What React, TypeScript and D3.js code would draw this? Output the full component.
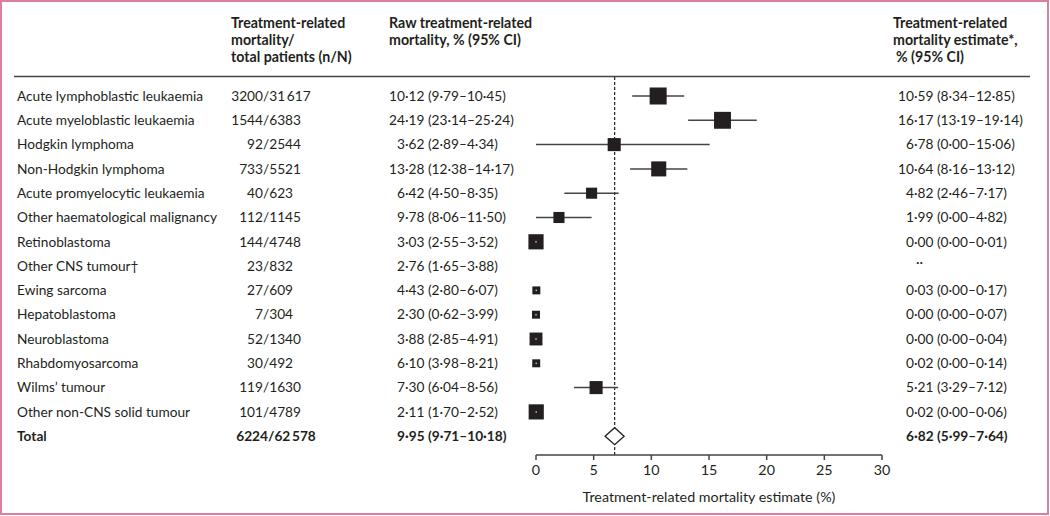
import React from 'react';
import * as d3 from 'd3';

const categories = [
  'Acute lymphoblastic leukaemia',
  'Acute myeloblastic leukaemia',
  'Hodgkin lymphoma',
  'Non-Hodgkin lymphoma',
  'Acute promyelocytic leukaemia',
  'Other haematological malignancy',
  'Retinoblastoma',
  'Other CNS tumour\u2020',
  'Ewing sarcoma',
  'Hepatoblastoma',
  'Neuroblastoma',
  'Rhabdomyosarcoma',
  'Wilms\u2019 tumour',
  'Other non-CNS solid tumour',
];
const deaths = [3200, 1544, 92, 733, 40, 112, 144, 23, 27, 7, 52, 30, 119, 101];
const patients = [31617, 6383, 2544, 5521, 623, 1145, 4748, 832, 609, 304, 1340, 492, 1630, 4789];
const rawEst = [10.12, 24.19, 3.62, 13.28, 6.42, 9.78, 3.03, 2.76, 4.43, 2.3, 3.88, 6.1, 7.3, 2.11];
const rawLo = [9.79, 23.14, 2.89, 12.38, 4.5, 8.06, 2.55, 1.65, 2.8, 0.62, 2.85, 3.98, 6.04, 1.7];
const rawHi = [10.45, 25.24, 4.34, 14.17, 8.35, 11.5, 3.52, 3.88, 6.07, 3.99, 4.91, 8.21, 8.56, 2.52];
const estimate: (number | null)[] = [10.59, 16.17, 6.78, 10.64, 4.82, 1.99, 0.0, null, 0.03, 0.0, 0.0, 0.02, 5.21, 0.02];
const estLo: (number | null)[] = [8.34, 13.19, 0.0, 8.16, 2.46, 0.0, 0.0, null, 0.0, 0.0, 0.0, 0.0, 3.29, 0.0];
const estHi: (number | null)[] = [12.85, 19.14, 15.06, 13.12, 7.17, 4.82, 0.01, null, 0.17, 0.07, 0.04, 0.14, 7.12, 0.06];
const weights: (number | null)[] = [7.3, 7.2, 4.3, 5.7, 3.1, 3.1, 5.8, null, 1.6, 1.6, 4.2, 1.6, 4.3, 5.8];

const totalLabel = 'Total';
const totalDeaths = 6224;
const totalPatients = 62578;
const totalRaw = [9.95, 9.71, 10.18];
const totalEst = [6.82, 5.99, 7.64];

const xTicks = [0, 5, 10, 15, 20, 25, 30];
const axisTitle = 'Treatment-related mortality estimate (%)';

const FONT = 'Lato, "Open Sans", sans-serif';
const INK = '#231f20';

const fmt = (v: number) => d3.format('.2f')(v).replace('.', '\u00b7');
const fmtN = (v: number) => {
  const s = String(v);
  return s.length > 4 ? s.slice(0, s.length - 3) + '\u2009' + s.slice(s.length - 3) : s;
};
const ciText = (e: number, l: number, h: number) => `${fmt(e)} (${fmt(l)}\u2013${fmt(h)})`;

function Aligned({ x, y, text, sep, bold }: { x: number; y: number; text: string; sep: string; bold?: boolean }) {
  const i = text.indexOf(sep);
  const a = i >= 0 ? text.slice(0, i) : '';
  const b = i >= 0 ? text.slice(i) : text;
  const fw = bold ? 700 : 400;
  return (
    <g fontWeight={fw}>
      <text x={x} y={y} textAnchor="end">{a}</text>
      <text x={x} y={y} textAnchor="start">{b}</text>
    </g>
  );
}

export default function App() {
  const W = 1050;
  const H = 516;
  const x = d3.scaleLinear().domain([0, 30]).range([536, 882]);
  const n = categories.length;
  const y = d3.scaleLinear().domain([0, n]).range([96, 96 + n * 24.3]);
  const side = d3.scaleSqrt().domain([0, 1]).range([0, 6.3]);
  const axisY = 455;

  const colLabel = 17;
  const colSlash = 263;
  const colRawDot = 405;
  const colEstDot = 914;
  const fs = 13.7;

  return (
    <svg width={W} height={H} style={{ position: 'absolute', left: 0, top: 0, background: '#fff' }}
      fontFamily={FONT} fontSize={fs} fill={INK}>
      <rect x={1} y={1} width={W - 3} height={H - 3} fill="#fff" stroke="#db7f9c" strokeWidth={2} />

      {/* headers */}
      <g fontWeight={700} fontSize={14.2}>
        <text x={231} y={28}>Treatment-related</text>
        <text x={231} y={45}>mortality/</text>
        <text x={231} y={62}>total patients (n/N)</text>
        <text x={389} y={28}>Raw treatment-related</text>
        <text x={389} y={45}>mortality, % (95% CI)</text>
        <text x={893} y={28}>Treatment-related</text>
        <text x={893} y={45}>mortality estimate*,</text>
        <text x={896} y={62}>% (95% CI)</text>
      </g>
      <line x1={14} x2={1030} y1={76.5} y2={76.5} stroke="#444" strokeWidth={1.5} />

      {/* reference dashed line */}
      <line x1={x(totalEst[0])} x2={x(totalEst[0])} y1={77} y2={axisY} stroke={INK} strokeWidth={1.2} strokeDasharray="3,2" />

      {/* rows */}
      {categories.map((c, i) => {
        const cy = y(i);
        const by = cy + 4.7;
        const e = estimate[i];
        const l = estLo[i];
        const h = estHi[i];
        const w = weights[i];
        const s = w != null ? side(w) : 0;
        return (
          <g key={c}>
            <text x={colLabel} y={by}>{c}</text>
            <Aligned x={colSlash} y={by} text={`${fmtN(deaths[i])}/${fmtN(patients[i])}`} sep="/" />
            <Aligned x={colRawDot} y={by} text={ciText(rawEst[i], rawLo[i], rawHi[i])} sep={'\u00b7'} />
            {e != null && l != null && h != null ? (
              <>
                <Aligned x={colEstDot} y={by} text={ciText(e, l, h)} sep={'\u00b7'} />
                <line x1={x(l)} x2={x(h)} y1={cy} y2={cy} stroke="#444" strokeWidth={1.5} />
                <rect x={x(e) - s / 2} y={cy - s / 2} width={s} height={s} fill={INK} />
                {h - l < 0.5 ? (
                  <rect x={x(e) - 0.75} y={cy - 0.75} width={1.5} height={1.5} fill="#bbb" />
                ) : null}
              </>
            ) : (
              <text x={colEstDot + 2} y={by - 4}>{'\u00b7\u00b7'}</text>
            )}
          </g>
        );
      })}

      {/* total */}
      {(() => {
        const cy = y(n);
        const by = cy + 4.7;
        const [e, l, h] = totalEst;
        const hh = 8.5;
        return (
          <g>
            <text x={colLabel} y={by} fontWeight={700}>{totalLabel}</text>
            <Aligned x={colSlash + 5} y={by} text={`${fmtN(totalDeaths)}/${fmtN(totalPatients)}`} sep="/" bold />
            <Aligned x={colRawDot} y={by} text={ciText(totalRaw[0], totalRaw[1], totalRaw[2])} sep={'\u00b7'} bold />
            <Aligned x={colEstDot} y={by} text={ciText(e, l, h)} sep={'\u00b7'} bold />
            <path d={`M${x(l)},${cy} L${x(e)},${cy - hh} L${x(h)},${cy} L${x(e)},${cy + hh} Z`}
              fill="#fff" stroke={INK} strokeWidth={1.3} />
          </g>
        );
      })()}

      {/* axis */}
      <line x1={x(0)} x2={x(30)} y1={axisY} y2={axisY} stroke="#444" strokeWidth={1.5} />
      <g fontSize={14.3}>
        {xTicks.map((t) => (
          <g key={t}>
            <line x1={x(t)} x2={x(t)} y1={axisY} y2={axisY + 5} stroke="#444" strokeWidth={1.5} />
            <text x={x(t)} y={axisY + 20} textAnchor="middle">{t}</text>
          </g>
        ))}
        <text x={(x(0) + x(30)) / 2} y={axisY + 47} textAnchor="middle">{axisTitle}</text>
      </g>
    </svg>
  );
}
